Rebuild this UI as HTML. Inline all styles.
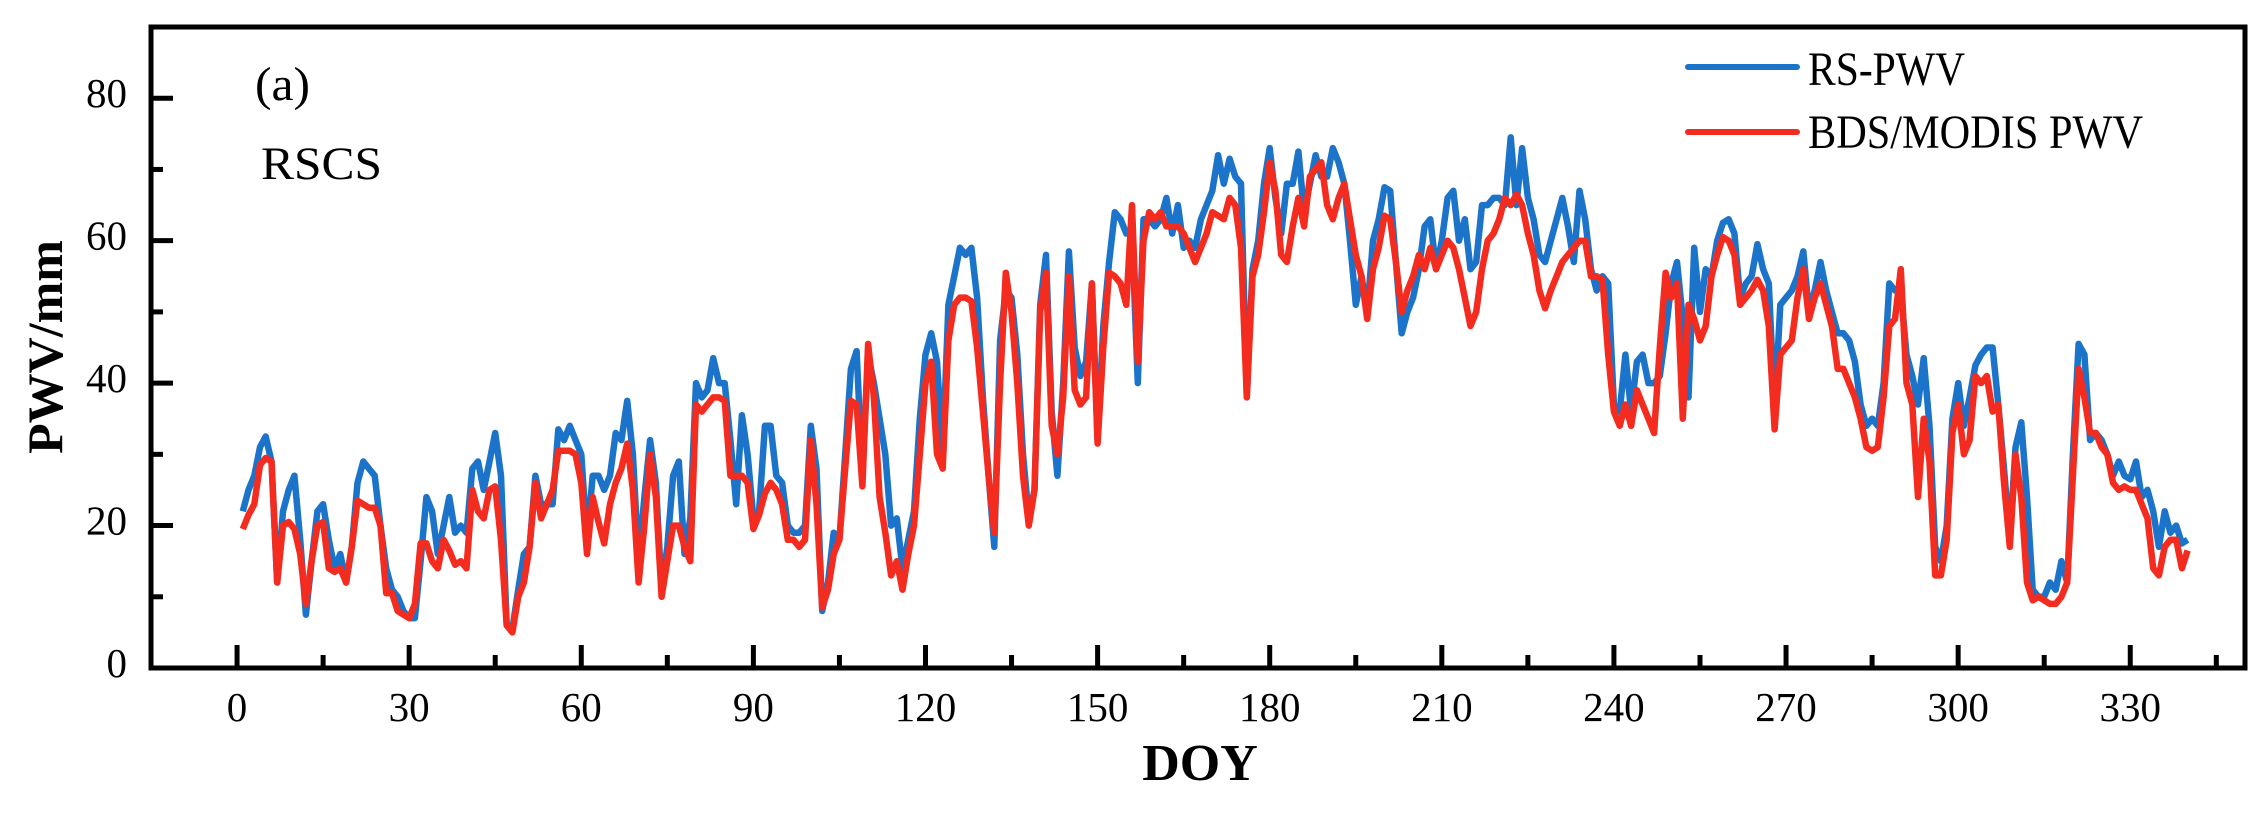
<!DOCTYPE html>
<html><head><meta charset="utf-8"><style>
html,body{margin:0;padding:0;background:#fff;}
svg{display:block;}
text{font-family:"Liberation Serif",serif;fill:#000;}
</style></head><body>
<svg id="s" width="2268" height="813" xmlns="http://www.w3.org/2000/svg"></svg>
<script>
var blue=[22,25,27,31,32.5,29,12,22,25,27,18,7.5,15,22,23,18,14,16,12,17,26,29,28,27,20,14,11,10,8,7,7,15,24,22,16,20,24,19,20,19,28,29,25,29,33,27,6,5.5,11,16,17,27,23,23,23,33.5,32,34,32,30,18,27,27,25,27,33,32,37.5,30,15,24,32,26,11,17,27,29,16,21,40,38,39,43.5,40,40,32,23,35.5,30,21,22,34,34,27,26,20,19,19,20,34,28,8,12,19,18,30,42,44.5,27,44,40,35,30,20,21,14,18,22,35,44,47,43,30,51,55,59,58,59,52,38,27,17,46,53,52,44,30,21,25,51,58,36,27,40,58.5,45,41,43,54,32,48,57,64,63,61,61,40,63,63,62,63,66,61,65,59,60,59,63,65,67,72,68,71.5,69,68,38,56,60,68,73,66,61,68,68,72.5,64,68,72,69,69,73,71,68,60,51,55,50,60,63,67.5,67,57,47,50,52,56,62,63,56,60,66,67,60,63,56,57,65,65,66,66,65,74.5,65,73,66,63,58,57,60,63,66,62,57,67,63,56,53,55,54,37,36,44,36,43,44,40,40,41,47,54,57,49,38,59,50,56,55,60,62.5,63,61,52,54,55,59.5,56,54,36,51,52,53,55,58.5,50,53,57,53,50,47,47,46,43,37,34,35,34,40,54,53,53,44,41,37,43.5,34,17,15,20,35,40,34,38,42.5,44,45,45,37,28,18,31,34.5,24,11,10,10,12,11,15,12,30,45.5,44,32,33,32,30,27,29,27,26.5,29,24,25,22,17,22,19,20,17.5,18];
var red=[19.5,21.5,23,28.5,29.5,29,12,20,20.5,19.5,16,9,15,20,20.5,14,13.5,14,12,17,23.5,23,22.5,22.5,20,10.5,10.5,8,7.5,7,9,17.5,17.5,15,14,18,16.5,14.5,15,14,25,22,21,25,25.5,18,6,5,10,12,17,26,21,23,25,30.5,30.5,30.5,30,26,16,24,20.5,17.5,23,26,28,31.5,25,12,20,30,24,10,15,20,20,17,15,37,36,37,38,38,37.5,27,27,27,26,19.5,21.5,24.5,26,25,23,18,18,17,18,32,23,8.5,11,16,18,28,37.5,37,25.5,45.5,38,24,19,13,15,11,16,20,30,40,43,30,28,46,51,52,52,51.5,45,36,27,19,40,55.5,50,40,27,20,25,50,55.5,34,30,38,55,39,37,38,54,31.5,45,55.5,55,54,51,65,43,60,64,63,64,62,62,62,61,59,57,59,61,64,63.5,63,66,65,59,38,55,58,64,71,67,58,57,62,66,62,69,70,71,65,63,66,68,63,58,55,49,56,59,63.5,63,57,50,53,55,58,56,59,56,58,60,59,56,52,48,50,56,60,61,63,66,65,66.5,65,61,58,53,50.5,53,55,57,58,59,60,60,55,55,54.5,44,36,34,37,34,39,37,35,33,45,55.5,52,54,35,51,49,46,48,55,58,60.5,60,58,51,52,53,54.5,53,48,33.5,44,45,46,52,56,49,52,54,51,48,42,42,40,38,35,31,30.5,31,38,48,49,56,40,37,24,35,29,13,13,18,33,37,30,32,41,40,41,36,37,26,17,30,24,12,9.5,10,9.5,9,9,10,12,27,42,38,33,33,31,30,26,25,25.5,25,25,23,21,14,13,17,18,18,14,16.5];
var L=151,R=2245,T=27,B=668;
function X(d){return L+(d+15)*(R-L)/365;}
function Y(v){return B-v*(B-T)/90;}
var h='';
function pl(a,c){var p=a.map(function(v,i){return X(i+1).toFixed(1)+','+Y(v).toFixed(1)}).join(' ');
return '<polyline points="'+p+'" fill="none" stroke="'+c+'" stroke-width="6.5" stroke-linejoin="round"/>';}
h+=pl(blue,'#1b74c9');h+=pl(red,'#f42b1f');
h+='<rect x="'+L+'" y="'+T+'" width="'+(R-L)+'" height="'+(B-T)+'" fill="none" stroke="#000" stroke-width="5"/>';
for(var d=0;d<=345;d+=15){var x=X(d),len=(d%30==0)?23:13;
h+='<line x1="'+x+'" y1="'+B+'" x2="'+x+'" y2="'+(B-len)+'" stroke="#000" stroke-width="5"/>';
if(d%30==0)h+='<text x="'+x+'" y="721" font-size="41" text-anchor="middle">'+d+'</text>';}
for(var v=0;v<=80;v+=10){var y=Y(v),len=(v%20==0)?22:12;
h+='<line x1="'+L+'" y1="'+y+'" x2="'+(L+len)+'" y2="'+y+'" stroke="#000" stroke-width="5"/>';
if(v%20==0)h+='<text x="127" y="'+(y+9)+'" font-size="41" text-anchor="end">'+v+'</text>';}
h+='<text x="1200" y="780" font-size="52" font-weight="bold" text-anchor="middle">DOY</text>';
h+='<text transform="translate(62,347) rotate(-90)" font-size="50" font-weight="bold" text-anchor="middle">PWV/mm</text>';
h+='<text x="255" y="100" font-size="48" textLength="55" lengthAdjust="spacingAndGlyphs">(a)</text>';
h+='<text x="261" y="179" font-size="47" textLength="121" lengthAdjust="spacingAndGlyphs">RSCS</text>';
h+='<line x1="1688" y1="67" x2="1797" y2="67" stroke="#1b74c9" stroke-width="6" stroke-linecap="round"/>';
h+='<line x1="1688" y1="132" x2="1797" y2="132" stroke="#f42b1f" stroke-width="6" stroke-linecap="round"/>';
h+='<text x="1808" y="85" font-size="48" textLength="157" lengthAdjust="spacingAndGlyphs">RS-PWV</text>';
h+='<text x="1808" y="148" font-size="48" textLength="335" lengthAdjust="spacingAndGlyphs">BDS/MODIS PWV</text>';
document.getElementById('s').innerHTML=h;
</script>
</body></html>
